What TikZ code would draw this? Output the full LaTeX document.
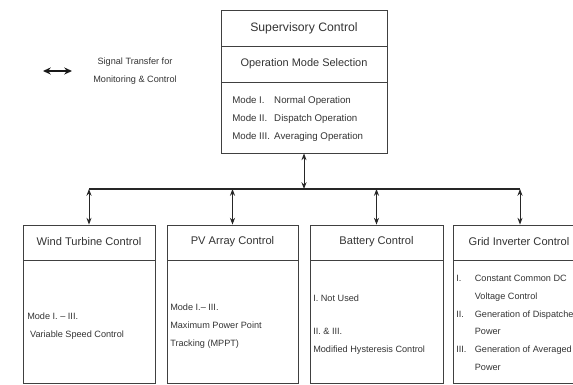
\documentclass[tikz,border=0pt]{standalone}
\usepackage{fontspec}
\setmainfont{Liberation Sans}
\usetikzlibrary{arrows.meta,calc,fit,positioning}

\begin{document}
\begin{tikzpicture}[x=0.025cm,y=-0.025cm,
  panel/.style={draw=black!75,line width=0.6pt,inner sep=0pt},
  link/.style={{Stealth[length=4.8pt,width=3.6pt]}-{Stealth[length=4.8pt,width=3.6pt]},line width=0.7pt,black!85},
  txt/.style={text=black!80,inner sep=0pt},
  small/.style={font=\fontsize{6.5}{12.6}\selectfont}]
\useasboundingbox (0,0) rectangle (573,385);
\clip (0,0) rectangle (573,385);

% supervisory control box
\node[panel,fit={(221,10) (387,153)}] (sup) {};
\draw[black!75,line width=0.6pt] (221,46) -- (387,46) (221,82) -- (387,82);
\node[txt,font=\fontsize{8.7}{10}\selectfont] (supT) at (304,28) {Supervisory Control};
\node[txt,font=\fontsize{7.8}{10}\selectfont] (supS) at (304,64) {Operation Mode Selection};
\node[txt,anchor=west,font=\fontsize{6.9}{12.8}\selectfont] (supM) at (232,118)
  {\begin{tabular}{@{}l@{\hspace{3pt}}l@{}}
   Mode I. & Normal Operation\\
   Mode II. & Dispatch Operation\\
   Mode III. & Averaging Operation
   \end{tabular}};

% legend
\coordinate (legA) at (43,71);
\coordinate (legB) at (72,71);
\draw[{Stealth[length=5.5pt,width=5pt]}-{Stealth[length=5.5pt,width=5pt]},line width=1.4pt,black!90] (legA) -- (legB);
\node[txt,small,align=center] (legT) at (135,71) {Signal Transfer for\\Monitoring \& Control};

% lower boxes
\node[panel,fit={(23,225) (155,383)}] (wind) {};
\node[panel,fit={(167,225) (298,383)}] (pv) {};
\node[panel,fit={(310,225) (443,383)}] (batt) {};
\node[panel,fit={(453,225) (587,383)}] (grid) {};
\foreach \l/\r in {23/155,167/298,310/443,453/587}
  \draw[black!75,line width=0.6pt] (\l,260) -- (\r,260);

\node[txt,font=\fontsize{7.9}{10}\selectfont] (windT) at (89,242) {Wind Turbine Control};
\node[txt,font=\fontsize{7.9}{10}\selectfont] (pvT) at (232.5,242) {PV Array Control};
\node[txt,font=\fontsize{7.9}{10}\selectfont] (battT) at (376.5,242) {Battery Control};
\node[txt,font=\fontsize{7.9}{10}\selectfont] (gridT) at (519,242) {Grid Inverter Control};

\node[txt,small,anchor=west,align=left] (windB) at (27,326)
  {Mode I. -- III.\\\hspace{2pt}Variable Speed Control};
\node[txt,small,anchor=west,align=left] (pvB) at (170,326)
  {Mode I.-- III.\\Maximum Power Point\\Tracking (MPPT)};
\node[txt,small,anchor=west] (battB1) at (313,298) {I. Not Used};
\node[txt,small,anchor=west,align=left] (battB2) at (313,341.5)
  {II. \& III.\\Modified Hysteresis Control};
\node[txt,small,anchor=west] (gridB) at (456,322.5)
  {\begin{tabular}{@{}l@{\hspace{6pt}}l@{}}
   I. & Constant Common DC\\
      & Voltage Control\\
   II. & Generation of Dispatched\\
      & Power\\
   III. & Generation of Averaged\\
      & Power
   \end{tabular}};

% signal bus
\coordinate (bus) at (304,189);
\draw[black!85,line width=0.8pt] (wind.north |- bus) -- (grid.north |- bus);
\draw[link] (sup.south) -- (bus);
\foreach \b in {wind,pv,batt,grid}
  \draw[link] (\b.north |- bus) -- (\b.north);
\end{tikzpicture}
\end{document}
